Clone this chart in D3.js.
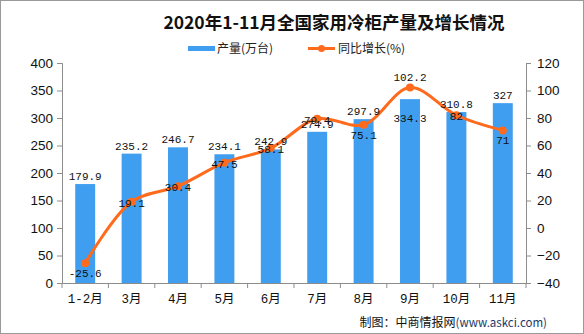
<!DOCTYPE html>
<html><head><meta charset="utf-8">
<script src="https://cdn.jsdelivr.net/npm/d3@7/dist/d3.min.js"></script>
<style>html,body{margin:0;padding:0;background:#fff;}svg{display:block;}</style>
</head><body>
<svg id="c" width="584" height="334"></svg>
<script>
const categories = ["1-2月","3月","4月","5月","6月","7月","8月","9月","10月","11月"];
const output = [179.9, 235.2, 246.7, 234.1, 242.9, 274.9, 297.9, 334.3, 310.8, 327];
const growth = [-25.6, 19.1, 30.4, 47.5, 58.1, 79.4, 75.1, 102.2, 82, 71];
const leftTicks = [0, 50, 100, 150, 200, 250, 300, 350, 400];
const rightTicks = [-40, -20, 0, 20, 40, 60, 80, 100, 120];
const titleText = "2020年1-11月全国家用冷柜产量及增长情况";
const legendNames = ["产量(万台)", "同比增长(%)"];
const sourceText = "制图：中商情报网";
const sourceUrl = "(www.askci.com)";

// label placement (layout config)
const growthLabelPlace = ["below","mid","mid","mid","mid","mid","below","above","mid","below"];
const barLabelInside = [false,false,false,false,false,false,false,true,false,false];

const BLUE = "#409EF0", ORANGE = "#FF6A1C", AXIS = "#8c8c8c";
const svg = d3.select("#c");
const W = 584, H = 334;
const m = {left: 62, right: 526, top: 63, bottom: 283};

svg.append("rect").attr("x",0.5).attr("y",0.5).attr("width",W-1).attr("height",H-1)
  .attr("fill","#fff").attr("stroke","#999");

const x = d3.scaleBand().domain(categories).range([m.left, m.right]).paddingInner(0.57).paddingOuter(0.285);
const yL = d3.scaleLinear().domain([0, 400]).range([m.bottom, m.top]);
const yR = d3.scaleLinear().domain([-40, 120]).range([m.bottom, m.top]);

// title
svg.append("text").attr("x", 334).attr("y", 29).attr("text-anchor","middle")
  .attr("font-family","'Noto Sans CJK SC', serif").attr("font-weight","bold").attr("font-size",17.5)
  .attr("fill","#111").text(titleText);

// legend
const lg = svg.append("g").attr("font-family","'Noto Sans CJK SC', sans-serif").attr("font-size",12).attr("fill","#222");
lg.append("rect").attr("x",188).attr("y",46).attr("width",27).attr("height",5).attr("fill",BLUE);
lg.append("text").attr("x",217).attr("y",53).text(legendNames[0]);
lg.append("line").attr("x1",308).attr("x2",335).attr("y1",48.5).attr("y2",48.5).attr("stroke",ORANGE).attr("stroke-width",3);
lg.append("circle").attr("cx",321.5).attr("cy",48.5).attr("r",3.5).attr("fill",ORANGE);
lg.append("text").attr("x",338).attr("y",53).text(legendNames[1]);

// bars
svg.append("g").selectAll("rect").data(output).join("rect")
  .attr("x",(d,i)=>x(categories[i])).attr("width",x.bandwidth())
  .attr("y",d=>yL(d)).attr("height",d=>yL(0)-yL(d)).attr("fill",BLUE);

// axes
const axFont = "'Liberation Sans', Arial, sans-serif";
const gl = svg.append("g").attr("transform",`translate(${m.left},0)`)
  .call(d3.axisLeft(yL).tickValues(leftTicks).tickSize(5).tickPadding(4).tickFormat(d3.format("d")));
const gr = svg.append("g").attr("transform",`translate(${m.right},0)`)
  .call(d3.axisRight(yR).tickValues(rightTicks).tickSize(5).tickPadding(6).tickFormat(d=>d<0?"−"+Math.abs(d):d));
[gl,gr].forEach(g=>{
  g.select(".domain").attr("stroke",AXIS);
  g.selectAll(".tick line").attr("stroke",AXIS);
  g.selectAll(".tick text").attr("font-family",axFont).attr("font-size",13.5).attr("fill","#111");
});
const gx = svg.append("g").attr("transform",`translate(0,${m.bottom})`)
  .call(d3.axisBottom(x).tickSize(0).tickPadding(11));
gx.select(".domain").attr("stroke",AXIS);
gx.selectAll(".tick text").attr("font-family","'Liberation Mono','Noto Sans CJK SC', monospace").attr("font-size",12.5).attr("fill","#111");
// boundary tick marks
const step = x.step();
const bounds = d3.range(categories.length+1).map(i=>x(categories[0]) - x.paddingOuter()*step - (x.step()-x.bandwidth())/2*0 + i*step);
svg.append("g").selectAll("line").data(d3.range(categories.length+1)).join("line")
  .attr("x1",i=>m.left + (m.right-m.left)/categories.length*i).attr("x2",i=>m.left + (m.right-m.left)/categories.length*i)
  .attr("y1",m.bottom).attr("y2",m.bottom+5).attr("stroke",AXIS);

// line
const pts = growth.map((g,i)=>[x(categories[i])+x.bandwidth()/2, yR(g)]);
svg.append("path").datum(pts)
  .attr("d", d3.line().curve(d3.curveCatmullRom.alpha(0.5)))
  .attr("fill","none").attr("stroke",ORANGE).attr("stroke-width",3);
svg.append("g").selectAll("circle").data(pts).join("circle")
  .attr("cx",d=>d[0]).attr("cy",d=>d[1]).attr("r",4).attr("fill",ORANGE);

const lblFont = "'Liberation Mono', 'DejaVu Sans Mono', monospace";
// bar labels
svg.append("g").selectAll("text").data(output).join("text")
  .attr("x",(d,i)=>x(categories[i])+x.bandwidth()/2)
  .attr("y",(d,i)=> barLabelInside[i] ? yL(d)+23 : yL(d)-4)
  .attr("text-anchor","middle").attr("font-family",lblFont).attr("font-size",11).attr("fill","#111")
  .text(d=>d);
// growth labels
svg.append("g").selectAll("text").data(growth).join("text")
  .attr("x",(d,i)=>pts[i][0])
  .attr("y",(d,i)=>{
    const p = growthLabelPlace[i];
    return pts[i][1] + (p==="below" ? 14 : p==="above" ? -6 : 5);
  })
  .attr("text-anchor","middle").attr("font-family",lblFont).attr("font-size",11).attr("fill","#111")
  .text(d=>d);

// source
const src = svg.append("text").attr("x",547).attr("y",327).attr("text-anchor","end")
  .attr("font-family","'Noto Sans CJK SC', sans-serif").attr("font-size",12);
src.append("tspan").attr("fill","#111").text(sourceText);
src.append("tspan").attr("fill","#1c3766").attr("font-size",11.5).text(sourceUrl);
</script>
</body></html>
